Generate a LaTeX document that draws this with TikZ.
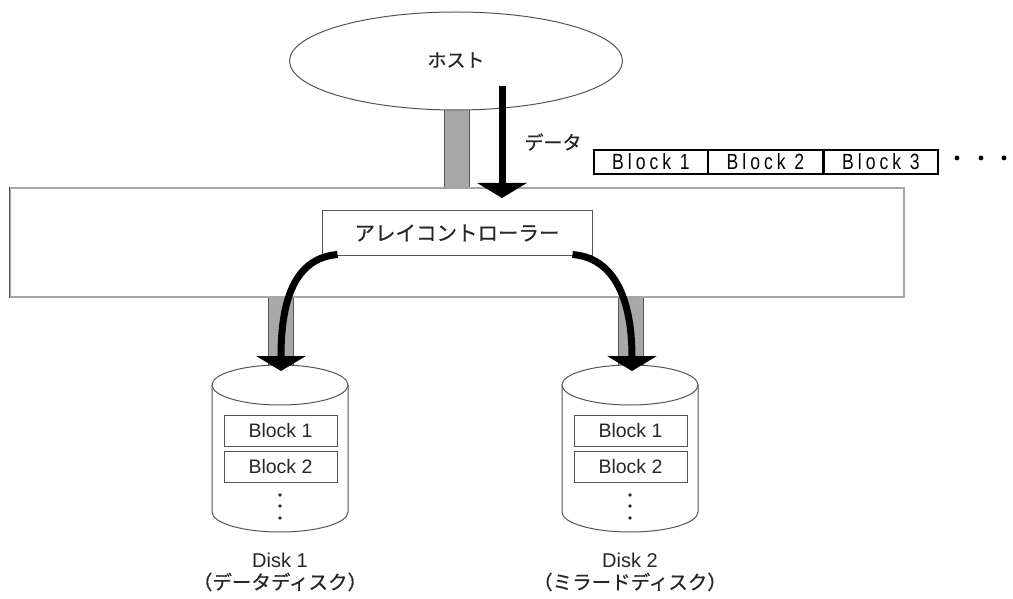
\documentclass[tikz,border=0pt]{standalone}
\usepackage{fontspec}
\setmainfont{Liberation Sans}
\newfontfamily\jp{Noto Sans CJK JP}[FakeBold=0.6]
\newfontfamily\blk{Liberation Sans}[LetterSpace=18,FakeStretch=0.8]
\usetikzlibrary{arrows.meta,shapes.geometric}
\definecolor{txt}{HTML}{262626}
\definecolor{pill}{HTML}{A8A8A8}
\definecolor{edge}{HTML}{555555}
\begin{document}
\begin{tikzpicture}[x=1pt,y=-1pt,
  pillar/.style={draw=edge,fill=pill,line width=1pt},
  bigarrow/.style={line width=7pt,-{Triangle[width=49pt,length=15pt]}},
  jptext/.style={font=\jp\fontsize{19}{22}\selectfont,text=txt},
  sbox/.style={draw=edge,fill=white,line width=1pt,inner sep=0pt,minimum width=113pt,minimum height=31pt,font=\fontsize{19.5}{22}\selectfont,text=txt},
  tbox/.style={draw=black,line width=1.5pt,inner sep=0pt,minimum width=114pt,minimum height=24pt,font=\blk\fontsize{22}{22}\selectfont},
  cyl/.style={draw=edge,fill=white,line width=1pt}]
\useasboundingbox[fill=white] (0,0) rectangle (1013,599);
% pillar host
\draw[pillar] (444,100) rectangle (469,188);
% host ellipse
\node[draw=edge,fill=white,line width=1pt,ellipse,minimum width=333pt,minimum height=98pt,inner sep=0pt] (host) at (456,61) {};
\node[jptext] (hostt) at (456,60) {ホスト};
% lower pillars
\draw[pillar] (268,290) rectangle (293,366);
\draw[pillar] (618,290) rectangle (643,366);
% main box
\node[draw=gray!70,fill=white,line width=1.5pt,minimum width=894pt,minimum height=109pt,inner sep=0pt] (main) at (457,242.5) {};
\draw[line width=1.5pt,edge] (main.north west) -- (main.south west);
% controller
\node[draw=edge,fill=white,line width=1pt,minimum width=270pt,minimum height=44pt,inner sep=0pt,jptext,font=\jp\fontsize{20.5}{22}\selectfont] (ctrl) at (457,233) {アレイコントローラー};
% data arrow
\coordinate (dstart) at (502,86);
\coordinate (dend) at (502,198);
\draw[bigarrow] (dstart) -- (dend);
\node[jptext,anchor=west] (datat) at (521,142) {データ};
% block boxes
\node[tbox] (b1) at (651,162) {Block 1};
\node[tbox] (b2) at (765.5,162) {Block 2};
\node[tbox] (b3) at (881,162) {Block 3};
\fill (957,158) circle (2.4) (981,158) circle (2.4) (1004,158) circle (2.4);
% cylinders
\foreach \cx/\nm in {280/1,630/2}{
  \draw[cyl] (\cx-68,385) -- (\cx-68,512) arc[start angle=180,end angle=360,x radius=68,y radius=-20] -- (\cx+68,385);
  \draw[cyl] (\cx,385) ellipse[x radius=68,y radius=20];
  \fill[txt] (\cx,495) circle (1.8) (\cx,506) circle (1.8) (\cx,518) circle (1.8);
}
\node[sbox] (d1b1) at (280.5,430.5) {Block 1};
\node[sbox] (d1b2) at (280.5,466.5) {Block 2};
\node[sbox] (d2b1) at (630.5,430.5) {Block 1};
\node[sbox] (d2b2) at (630.5,466.5) {Block 2};
% labels
\node[font=\fontsize{20}{22}\selectfont,text=txt] (l1) at (280,560) {Disk 1};
\node[jptext,font=\jp\fontsize{19.5}{22}\selectfont] (l1j) at (280,582) {（データディスク）};
\node[font=\fontsize{20}{22}\selectfont,text=txt] (l2) at (630,560) {Disk 2};
\node[jptext,font=\jp\fontsize{19.5}{22}\selectfont] (l2j) at (630,582) {（ミラードディスク）};
% curved arrows
\coordinate (t1) at (281,371);
\coordinate (t2) at (632,371);
\draw[bigarrow] ([xshift=16pt,yshift=1pt]ctrl.south west) .. controls +(-48,4) and +(0,-60) .. (t1);
\draw[bigarrow] ([xshift=-20pt,yshift=1pt]ctrl.south east) .. controls +(48,4) and +(0,-60) .. (t2);
\end{tikzpicture}
\end{document}
